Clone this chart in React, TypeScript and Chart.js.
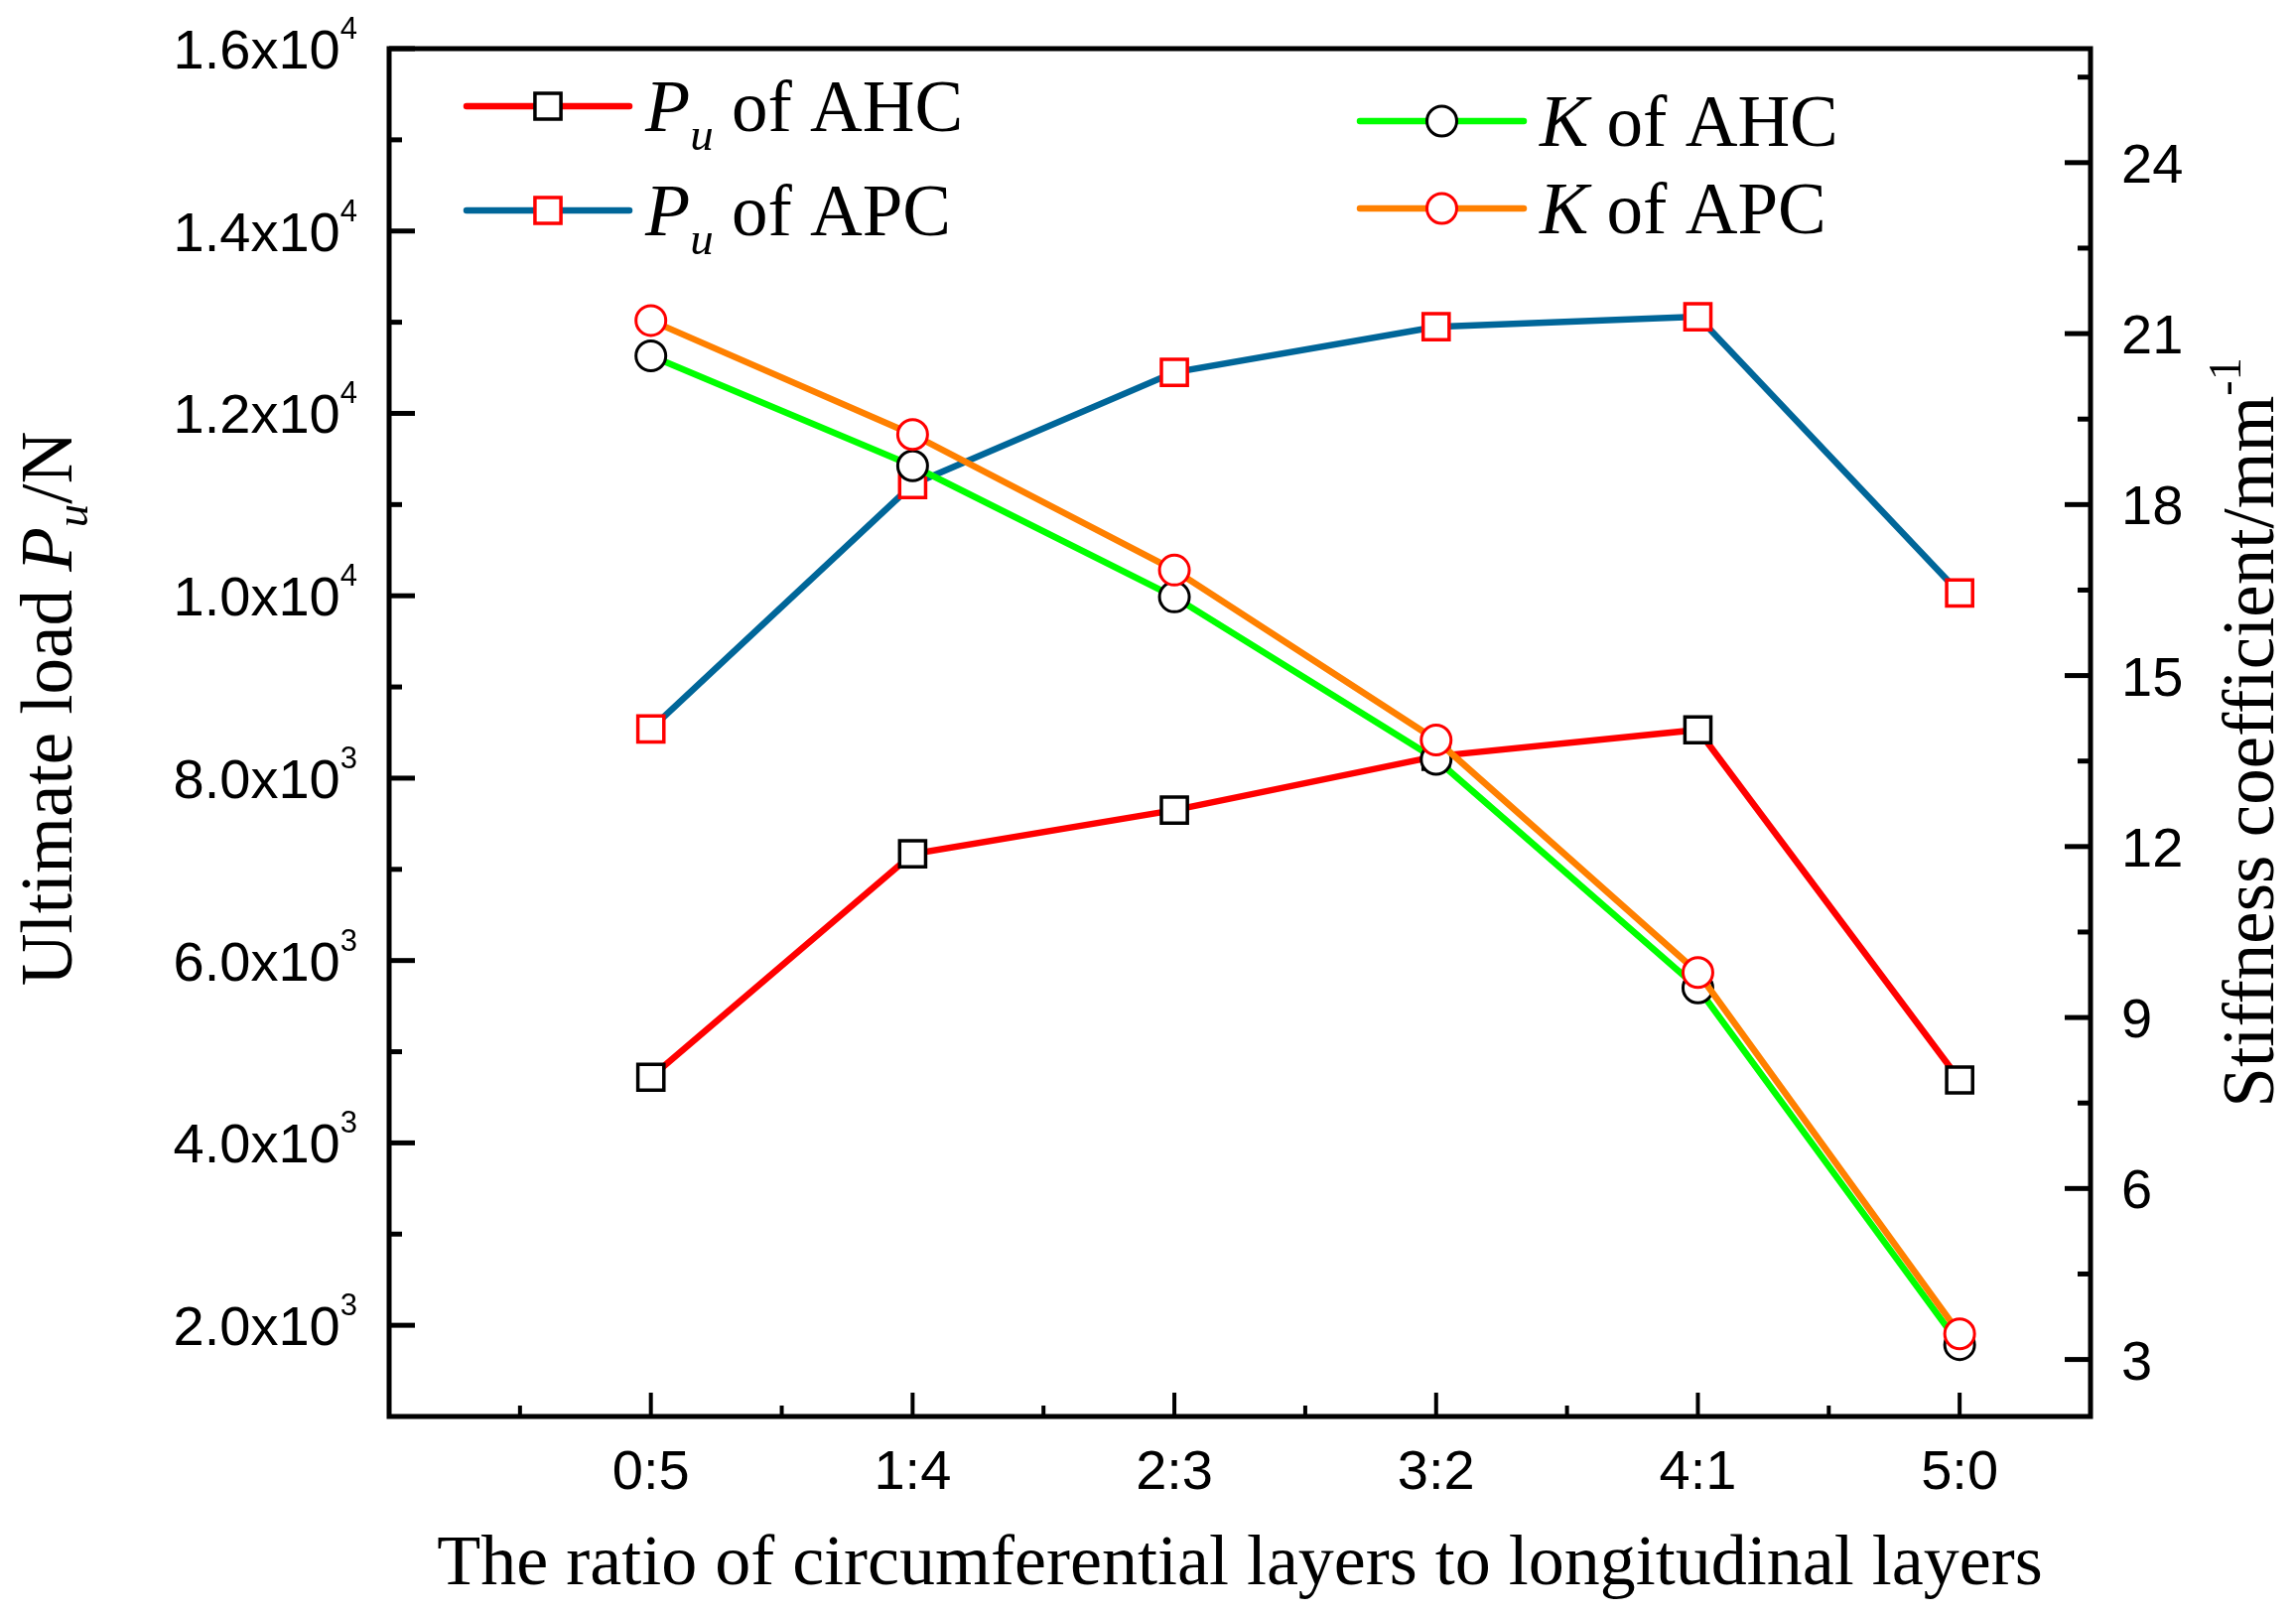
import { useEffect, useRef } from "react";
import { Chart, registerables } from "chart.js";

Chart.register(...registerables);

// values
const ratios = ["0:5", "1:4", "2:3", "3:2", "4:1", "5:0"];
const puAHC = [4720, 7170, 7650, 8240, 8530, 4690];
const puAPC = [8540, 11220, 12450, 12950, 13060, 10030];
const kAHC = [20.61, 18.68, 16.38, 13.53, 9.52, 3.26];
const kAPC = [21.23, 19.23, 16.85, 13.87, 9.79, 3.45];

const loadTicks = [2000, 4000, 6000, 8000, 10000, 12000, 14000, 16000];
const loadMinor = [3000, 5000, 7000, 9000, 11000, 13000, 15000];
const stiffTicks = [3, 6, 9, 12, 15, 18, 21, 24];
const stiffMinor = [4.5, 7.5, 10.5, 13.5, 16.5, 19.5, 22.5, 25.5];
const ratioMinor = [-0.5, 0.5, 1.5, 2.5, 3.5, 4.5];

const SANS = '"Liberation Sans", Arial, sans-serif';
const SERIF = '"Liberation Serif", "Times New Roman", serif';

type Run = { text: string; font: string; dy?: number };

const runsWidth = (ctx: CanvasRenderingContext2D, runs: Run[]) =>
  runs.reduce((w, r) => {
    ctx.font = r.font;
    return w + ctx.measureText(r.text).width;
  }, 0);

const drawRuns = (ctx: CanvasRenderingContext2D, x: number, y: number, runs: Run[]) => {
  ctx.textAlign = "left";
  ctx.textBaseline = "alphabetic";
  let cx = x;
  for (const r of runs) {
    ctx.font = r.font;
    ctx.fillText(r.text, cx, y + (r.dy || 0));
    cx += ctx.measureText(r.text).width;
  }
};

const legendRuns = (sym: string, sub: string, rest: string): Run[] => {
  const out: Run[] = [{ text: sym, font: `italic 74px ${SERIF}` }];
  if (sub) out.push({ text: sub, font: `italic 47px ${SERIF}`, dy: 19 });
  out.push({ text: rest, font: `73px ${SERIF}` });
  return out;
};

const axesPlugin = {
  id: "originAxes",
  beforeDatasetsDraw(chart: any) {
    const { ctx, chartArea: a, scales } = chart;
    const x = scales.x;
    const y = scales.y;
    const y1 = scales.y1;
    ctx.save();
    ctx.fillStyle = "#000";
    ctx.strokeStyle = "#000";

    // frame
    ctx.lineWidth = 5;
    ctx.strokeRect(a.left, a.top, a.right - a.left, a.bottom - a.top);

    // inward ticks
    const tick = (x0: number, y0: number, x1: number, y1_: number, w: number) => {
      ctx.lineWidth = w;
      ctx.beginPath();
      ctx.moveTo(x0, y0);
      ctx.lineTo(x1, y1_);
      ctx.stroke();
    };
    loadTicks.forEach((v) => {
      const py = y.getPixelForValue(v);
      tick(a.left, py, a.left + 26, py, 5);
    });
    loadMinor.forEach((v) => {
      const py = y.getPixelForValue(v);
      tick(a.left, py, a.left + 13, py, 5);
    });
    stiffTicks.forEach((v) => {
      const py = y1.getPixelForValue(v);
      tick(a.right, py, a.right - 26, py, 5);
    });
    stiffMinor.forEach((v) => {
      const py = y1.getPixelForValue(v);
      tick(a.right, py, a.right - 13, py, 5);
    });
    ratios.forEach((_, i) => {
      const px = x.getPixelForValue(i);
      tick(px, a.bottom, px, a.bottom - 24, 4);
    });
    ratioMinor.forEach((v) => {
      const px = x.getPixelForValue(v);
      tick(px, a.bottom, px, a.bottom - 11, 4);
    });

    // left tick labels like 1.6x10^4
    loadTicks.forEach((v) => {
      const py = y.getPixelForValue(v);
      const e = Math.floor(Math.log10(v));
      const runs: Run[] = [
        { text: (v / Math.pow(10, e)).toFixed(1) + "x10", font: `56px ${SANS}` },
        { text: String(e), font: `31px ${SANS}`, dy: -30 },
      ];
      drawRuns(ctx, a.left - 32 - runsWidth(ctx, runs), py + 20, runs);
    });

    // right tick labels
    ctx.font = `56px ${SANS}`;
    ctx.textAlign = "left";
    stiffTicks.forEach((v) => {
      ctx.fillText(String(v), a.right + 31, y1.getPixelForValue(v) + 20);
    });

    // bottom tick labels
    ctx.textAlign = "center";
    ratios.forEach((r, i) => {
      ctx.fillText(r, x.getPixelForValue(i), a.bottom + 73);
    });

    // x title
    ctx.font = `72px ${SERIF}`;
    ctx.fillText(
      "The ratio of circumferential layers to longitudinal layers",
      (a.left + a.right) / 2,
      a.bottom + 169
    );

    // left title
    const leftTitle: Run[] = [
      { text: "Ultimate load ", font: `73px ${SERIF}` },
      { text: "P", font: `italic 73px ${SERIF}` },
      { text: "u", font: `italic 47px ${SERIF}`, dy: 16 },
      { text: "/N", font: `73px ${SERIF}` },
    ];
    ctx.save();
    ctx.translate(72, 714);
    ctx.rotate(-Math.PI / 2);
    drawRuns(ctx, -runsWidth(ctx, leftTitle) / 2, 0, leftTitle);
    ctx.restore();

    // right title
    const rightTitle: Run[] = [
      { text: "Stiffness coefficient/mm", font: `73px ${SERIF}` },
      { text: "-1", font: `46px ${SERIF}`, dy: -33 },
    ];
    ctx.save();
    ctx.translate(2290, (a.top + a.bottom) / 2);
    ctx.rotate(-Math.PI / 2);
    drawRuns(ctx, -runsWidth(ctx, rightTitle) / 2, 0, rightTitle);
    ctx.restore();

    ctx.restore();
  },
  afterDatasetsDraw(chart: any) {
    const { ctx } = chart;
    const ds = chart.data.datasets;
    const entries = [
      { d: ds[0], x0: 470, x1: 634, yc: 107, runs: legendRuns("P", "u", " of AHC") },
      { d: ds[1], x0: 470, x1: 634, yc: 212, runs: legendRuns("P", "u", " of APC") },
      { d: ds[2], x0: 1370, x1: 1535, yc: 122, runs: legendRuns("K", "", " of AHC") },
      { d: ds[3], x0: 1370, x1: 1535, yc: 210, runs: legendRuns("K", "", " of APC") },
    ];
    ctx.save();
    entries.forEach(({ d, x0, x1, yc, runs }) => {
      ctx.strokeStyle = d.borderColor;
      ctx.lineWidth = d.borderWidth;
      ctx.lineCap = "round";
      ctx.beginPath();
      ctx.moveTo(x0, yc);
      ctx.lineTo(x1, yc);
      ctx.stroke();
      const mx = (x0 + x1) / 2;
      ctx.fillStyle = "#fff";
      ctx.strokeStyle = d.pointBorderColor;
      ctx.lineWidth = d.pointBorderWidth;
      ctx.beginPath();
      if (d.pointStyle === "rect") {
        const s = d.pointRadius * Math.SQRT1_2;
        ctx.rect(mx - s, yc - s, 2 * s, 2 * s);
      } else {
        ctx.arc(mx, yc, d.pointRadius, 0, Math.PI * 2);
      }
      ctx.fill();
      ctx.stroke();
      ctx.fillStyle = "#000";
      drawRuns(ctx, x1 + 16, yc + 25, runs);
    });
    ctx.restore();
  },
};

const series = (vals: number[]) => vals.map((v, i) => ({ x: i, y: v }));

export default function App() {
  const canvasRef = useRef<HTMLCanvasElement>(null);

  useEffect(() => {
    if (!canvasRef.current) return;
    const chart = new Chart(canvasRef.current, {
      type: "line",
      data: {
        datasets: [
          {
            label: "Pu of AHC",
            data: series(puAHC),
            yAxisID: "y",
            borderColor: "#ff0000",
            borderWidth: 6.5,
            pointStyle: "rect",
            pointRadius: 18.5,
            pointBorderWidth: 3.5,
            pointBorderColor: "#000000",
            pointBackgroundColor: "#ffffff",
            order: 3,
          },
          {
            label: "Pu of APC",
            data: series(puAPC),
            yAxisID: "y",
            borderColor: "#006699",
            borderWidth: 6.5,
            pointStyle: "rect",
            pointRadius: 18.5,
            pointBorderWidth: 3.5,
            pointBorderColor: "#ff0000",
            pointBackgroundColor: "#ffffff",
            order: 2,
          },
          {
            label: "K of AHC",
            data: series(kAHC),
            yAxisID: "y1",
            borderColor: "#00ff00",
            borderWidth: 6.5,
            pointStyle: "circle",
            pointRadius: 15,
            pointBorderWidth: 3,
            pointBorderColor: "#000000",
            pointBackgroundColor: "#ffffff",
            order: 1,
          },
          {
            label: "K of APC",
            data: series(kAPC),
            yAxisID: "y1",
            borderColor: "#ff8000",
            borderWidth: 6.5,
            pointStyle: "circle",
            pointRadius: 15,
            pointBorderWidth: 3,
            pointBorderColor: "#ff0000",
            pointBackgroundColor: "#ffffff",
            order: 0,
          },
        ],
      },
      options: {
        animation: false,
        responsive: true,
        maintainAspectRatio: false,
        layout: { padding: { left: 392, top: 49, right: 207, bottom: 200 } },
        plugins: {
          legend: { display: false },
          tooltip: { enabled: false },
        },
        scales: {
          x: { type: "linear", min: -1, max: 5.5, display: false },
          y: { type: "linear", min: 1000, max: 16000, display: false },
          y1: { type: "linear", min: 2, max: 26, display: false },
        },
      },
      plugins: [axesPlugin],
    });
    return () => chart.destroy();
  }, []);

  return (
    <div style={{ position: "fixed", left: 0, top: 0, width: 2313, height: 1627, background: "#fff" }}>
      <canvas ref={canvasRef}></canvas>
    </div>
  );
}
